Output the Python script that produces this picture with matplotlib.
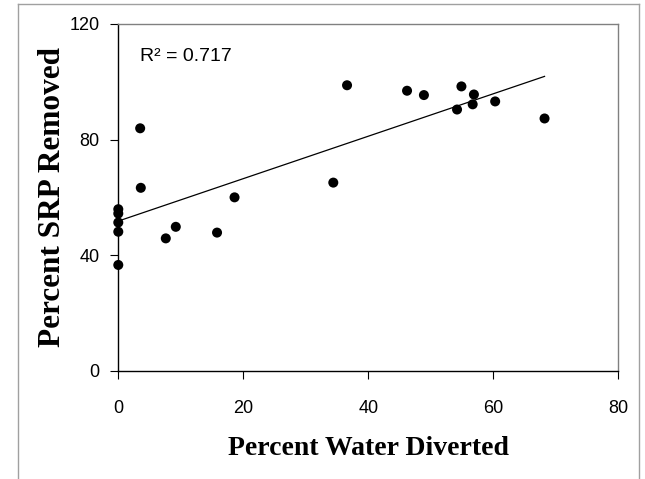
import numpy as np
import matplotlib
matplotlib.use('Agg')
from matplotlib import pyplot as plt
from matplotlib.lines import Line2D

# Data
water_diverted = [3.5, 3.6, 0.0, 0.0, 0.0, 0.0, 0.0, 7.6, 9.2, 15.8, 18.6,
                  34.4, 36.6, 46.2, 48.9, 54.2, 54.9, 56.9, 56.7, 60.3, 68.2]
srp_removed = [83.9, 63.3, 55.9, 54.4, 51.3, 48.1, 36.6, 45.8, 49.8, 47.8, 60.0,
               65.1, 98.8, 96.9, 95.4, 90.4, 98.4, 95.6, 92.2, 93.2, 87.3]
x_ticks = [0, 20, 40, 60, 80]
y_ticks = [0, 40, 80, 120]
r2_label = 'R² = 0.717'

x = np.array(water_diverted)
y = np.array(srp_removed)
slope, intercept = np.polyfit(x, y, 1)

fig = plt.figure(figsize=(6.45, 4.79), dpi=100)
ax = fig.add_axes([0.1834, 0.2261, 0.7752, 0.7238])

ax.scatter(x, y, s=52, c='k', edgecolors='none', zorder=3, clip_on=False)
xf = np.array([0, x.max()])
ax.plot(xf, intercept + slope * xf, '-', c='k', lw=0.9, zorder=2)

ax.set_xlim(0, 80)
ax.set_ylim(0, 120)
ax.set_xticks(x_ticks)
ax.set_yticks(y_ticks)

tick_font = {'family': 'Liberation Sans', 'size': 13}
ax.set_xticklabels([str(v) for v in x_ticks], fontdict=tick_font)
ax.set_yticklabels([str(v) for v in y_ticks], fontdict=tick_font)
ax.tick_params(axis='x', direction='out', length=6, width=0.8, pad=15)
ax.tick_params(axis='y', direction='out', length=6, width=0.8, pad=7.5)

for s in ['left', 'bottom']:
    ax.spines[s].set_color('k')
    ax.spines[s].set_linewidth(1.0)
for s in ['top', 'right']:
    ax.spines[s].set_color('#808080')
    ax.spines[s].set_linewidth(1.0)

ax.set_xlabel('Percent Water Diverted', family='Liberation Serif',
              weight='bold', size=20, labelpad=14)
ax.set_ylabel('Percent SRP Removed', family='Liberation Serif',
              weight='bold', size=22.5, labelpad=2)

ax.text(0.043, 0.906, r2_label, transform=ax.transAxes, family='Liberation Sans',
        size=14, ha='left', va='center')

# light frame around the chart area
W, H = 645.0, 479.0
fx0, fx1, fy1 = 18 / W, 639 / W, 1 - 4 / H
for xs, ys in [([fx0, fx0], [0, fy1]), ([fx0, fx1], [fy1, fy1]), ([fx1, fx1], [fy1, 0])]:
    fig.add_artist(Line2D(xs, ys, color='#a0a0a0', lw=1.0, transform=fig.transFigure))

plt.savefig('out.png', dpi=100)
